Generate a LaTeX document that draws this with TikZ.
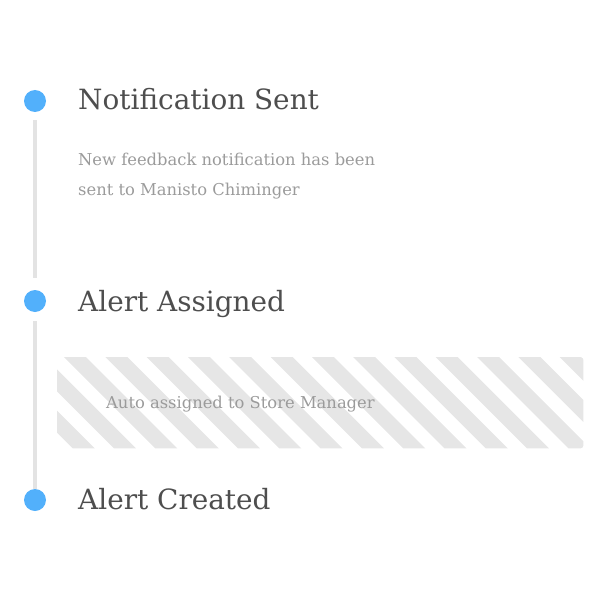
\documentclass[tikz,border=0pt]{standalone}
\usepackage{fontspec}
\setmainfont{DejaVu Serif}
\usepackage{tikz}
\usetikzlibrary{positioning, calc}
\definecolor{dotblue}{RGB}{82, 176, 251}
\definecolor{railgray}{RGB}{227, 227, 227}
\definecolor{stripegray}{RGB}{230, 230, 230}
\definecolor{titlecolor}{RGB}{78, 78, 78}
\definecolor{textcolor}{RGB}{155, 155, 155}

\begin{document}
\begin{tikzpicture}[x=1bp, y=-1bp,
    dot/.style={circle, fill=dotblue, minimum size=22bp, inner sep=0pt},
    rail/.style={railgray, line width=4.6bp},
    title/.style={anchor=base west, inner sep=0pt, text=titlecolor, font=\fontsize{28}{34}\selectfont},
    desc/.style={inner sep=0pt, text=textcolor, align=left, font=\fontsize{16.4}{29.5}\selectfont},
    notebox/.style={anchor=north west, inner sep=0pt, minimum width=526bp, minimum height=91bp}]
    \useasboundingbox (0,0) rectangle (600,600);

    % Steps
    \node[dot] (d1) at (35,101) {};
    \node[dot] (d2) at (35,301) {};
    \node[dot] (d3) at (35,500) {};
    \node[title] (t1) at (78,110) {Notification Sent};
    \node[title] (t2) at (78,311) {Alert Assigned};
    \node[title] (t3) at (78,509) {Alert Created};

    % Rails
    \draw[rail] ([yshift=-8bp]d1.south) -- ([yshift=12bp]d2.north);
    \draw[rail] ([yshift=-9bp]d2.south) -- (d3.north);

    % Description
    \node[desc, anchor=north west] (n1) at (78,153) {New feedback notification has been\\sent to Manisto Chiminger};

    % Striped note
    \node[notebox] (note) at (57,357) {};
    \begin{scope}
        \clip[rounded corners=3bp] (note.north west) rectangle (note.south east);
        \foreach \n in {-3,...,13}
            \fill[stripegray] ({-293+41.3*\n+340},340) -- ({-271+41.3*\n+340},340)
                -- ({-271+41.3*\n+460},460) -- ({-293+41.3*\n+460},460) -- cycle;
    \end{scope}
    \node[desc, anchor=base west] (n2) at (106,408) {Auto assigned to Store Manager};

\end{tikzpicture}
\end{document}
